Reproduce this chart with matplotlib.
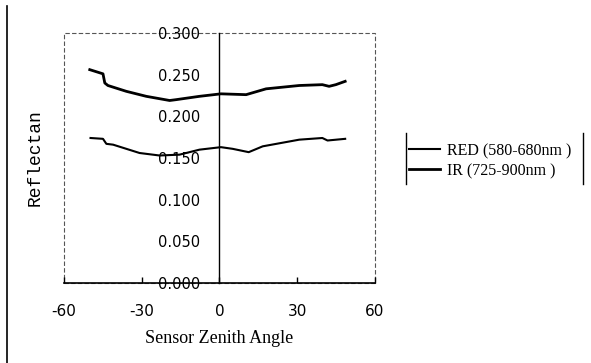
import matplotlib.pyplot as plt
from matplotlib.lines import Line2D
from matplotlib.patches import Rectangle

plt.rcParams["axes.unicode_minus"] = False

# data
ir_angle = [-50.0, -44.9, -44.2, -43.0, -35.9, -28.2, -19.2, -16.7, -7.7, 0.6,
            10.3, 18.0, 30.8, 39.7, 42.3, 44.9, 48.5]
ir_refl = [0.256, 0.251, 0.240, 0.237, 0.230, 0.224, 0.219, 0.220, 0.224, 0.227,
           0.226, 0.233, 0.237, 0.238, 0.236, 0.238, 0.242]
red_angle = [-49.7, -44.9, -43.6, -41.0, -30.8, -23.1, -15.4, -7.7, 0.6, 5.1,
             11.3, 16.7, 30.8, 39.7, 41.7, 48.5]
red_refl = [0.174, 0.173, 0.167, 0.166, 0.156, 0.153, 0.154, 0.160, 0.163, 0.161,
            0.157, 0.164, 0.172, 0.174, 0.171, 0.173]

x_ticks = [-60, -30, 0, 30, 60]
y_ticks = [0.0, 0.05, 0.1, 0.15, 0.2, 0.25, 0.3]
y_labels = ["0.000", "0.050", "0.100", "0.150", "0.200", "0.250", "0.300"]

fig = plt.figure(figsize=(5.91, 3.63), dpi=100)
ax = fig.add_axes([0.108, 0.2204, 0.5265, 0.6887])

ax.plot(red_angle, red_refl, color="black", lw=1.5, label="RED (580-680nm )")
ax.plot(ir_angle, ir_refl, color="black", lw=2.0, label="IR (725-900nm )")

ax.set_xlim(-60, 60)
ax.set_ylim(0, 0.3)

# y axis sits at zero, plot area border dashed
ax.spines["left"].set_position(("data", 0))
ax.spines["left"].set_linewidth(1.0)
ax.spines["top"].set_visible(False)
ax.spines["right"].set_visible(False)
ax.spines["bottom"].set_linewidth(1.2)
ax.add_patch(Rectangle((0, 0), 1, 1, transform=ax.transAxes, fill=False,
                       ls=(0, (4, 2)), lw=0.8, color="#555555", clip_on=False))

ax.set_xticks(x_ticks)
ax.set_yticks(y_ticks)
ax.set_yticklabels(y_labels)
ax.tick_params(axis="x", direction="in", length=4, width=1, pad=15, labelsize=11)
ax.tick_params(axis="y", length=0, pad=14, labelsize=10.5)

ax.set_xlabel("Sensor Zenith Angle", family="Liberation Serif", fontsize=13, labelpad=8)
ax.text(-0.093, 0.5, "Reflectan", transform=ax.transAxes, rotation=90,
        family="Liberation Mono", fontsize=13, ha="center", va="center")

leg = fig.legend(loc="center left", bbox_to_anchor=(406 / 591, 1 - 161 / 363),
                 frameon=False, prop={"family": "Liberation Serif", "size": 11.5},
                 handlelength=1.9, handletextpad=0.45, labelspacing=0.25,
                 borderpad=0.2, borderaxespad=0)

# legend side bars and page edge
for xp in (406, 583):
    fig.add_artist(Line2D([xp / 591, xp / 591], [1 - 133 / 363, 1 - 184 / 363],
                          color="black", lw=1))
fig.add_artist(Line2D([7 / 591, 7 / 591], [0, 1 - 6 / 363], color="black", lw=1.2))

fig.savefig("out.png", dpi=100)
